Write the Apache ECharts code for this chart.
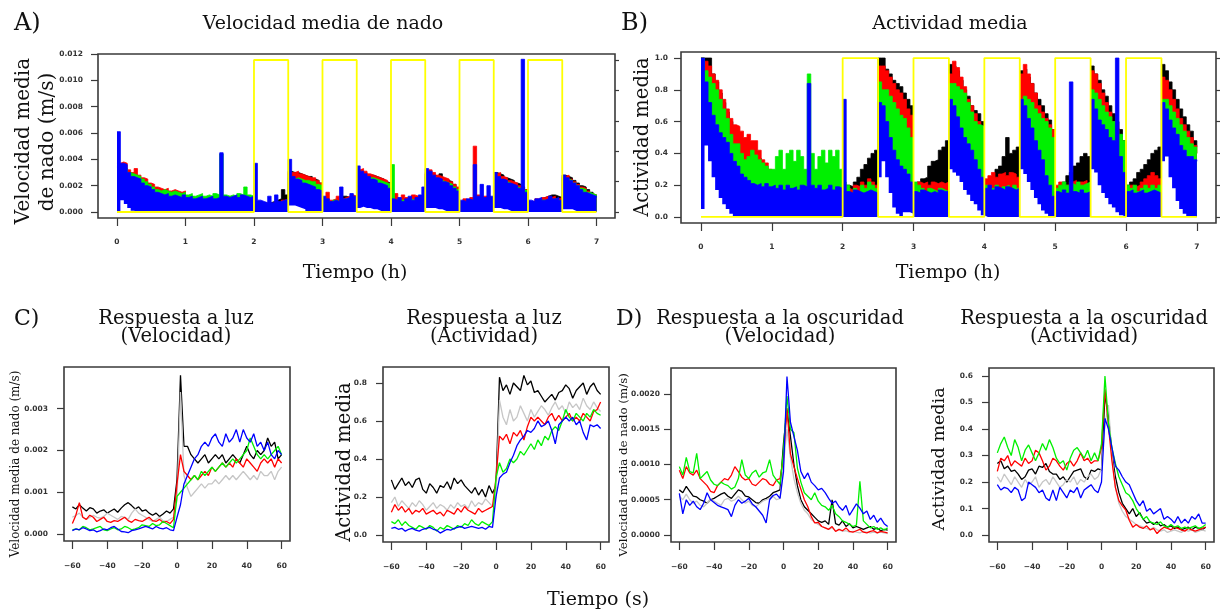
<!DOCTYPE html>
<html>
<head>
<meta charset="utf-8">
<title>Velocidad y actividad media</title>
<script src="https://cdn.jsdelivr.net/npm/echarts@6/dist/echarts.min.js"></script>
<style>
  html, body { margin: 0; padding: 0; background: #ffffff; }
  #chart { width: 1225px; height: 611px; }
</style>
</head>
<body>
<div id="chart"></div>
<script>
// ---------- sampling ----------
const HOUR_STEP = 0.05;          // top panels: one value every 3 min, starting at 0 h
const SEC_START = -60;           // bottom panels: -60 s ... 60 s
const SEC_STEP = 2;

// ---------- ticks ----------
const hourTicks = [0, 1, 2, 3, 4, 5, 6, 7];
const secTicks = [-60, -40, -20, 0, 20, 40, 60];
const swimTicks = [0, 0.002, 0.004, 0.006, 0.008, 0.010, 0.012];
const actTicks = [0, 0.2, 0.4, 0.6, 0.8, 1.0];
const lightTicks = [0, 0.2, 0.4, 0.6, 0.8, 1.0];
const lightSwimTicks = [0, 0.001, 0.002, 0.003];
const lightActTicks = [0, 0.2, 0.4, 0.6, 0.8];
const darkSwimTicks = [0, 0.0005, 0.0010, 0.0015, 0.0020];
const darkActTicks = [0, 0.1, 0.2, 0.3, 0.4, 0.5, 0.6];

// light-on periods (h)
const lightOn = [[2, 2.5], [3, 3.5], [4, 4.5], [5, 5.5], [6, 6.5]];

// ---------- A) mean swimming speed (m/s), 0 - 7 h ----------
const swimBlack = [
  0.0034, 0.0035, 0.0033, 0.0030, 0.0028, 0.0027, 0.0026, 0.0024, 0.0022, 0.0020,
  0.0018, 0.0016, 0.0015, 0.0014, 0.0014, 0.0013, 0.0013, 0.0012, 0.0012, 0.0012,
  0.0011, 0.0011, 0.0010, 0.0011, 0.0010, 0.0010, 0.0011, 0.0010, 0.0010, 0.0011,
  0.0010, 0.0010, 0.0011, 0.0010, 0.0011, 0.0010, 0.0012, 0.0011, 0.0010, 0.0011,
  0.0006, 0.0006, 0.0007, 0.0006, 0.0007, 0.0008, 0.0009, 0.0010, 0.0017, 0.0013,
  0.0031, 0.0030, 0.0030, 0.0029, 0.0028, 0.0027, 0.0027, 0.0025, 0.0024, 0.0022,
  0.0006, 0.0007, 0.0007, 0.0008, 0.0008, 0.0009, 0.0012, 0.0011, 0.0012, 0.0011,
  0.0031, 0.0030, 0.0030, 0.0028, 0.0028, 0.0027, 0.0026, 0.0025, 0.0023, 0.0022,
  0.0006, 0.0007, 0.0008, 0.0007, 0.0009, 0.0008, 0.0010, 0.0009, 0.0011, 0.0010,
  0.0029, 0.0029, 0.0028, 0.0027, 0.0029, 0.0025, 0.0024, 0.0023, 0.0021, 0.0018,
  0.0006, 0.0007, 0.0007, 0.0009, 0.0008, 0.0010, 0.0011, 0.0009, 0.0012, 0.0010,
  0.0030, 0.0029, 0.0028, 0.0026, 0.0025, 0.0024, 0.0022, 0.0021, 0.0019, 0.0017,
  0.0006, 0.0008, 0.0009, 0.0010, 0.0011, 0.0012, 0.0013, 0.0013, 0.0012, 0.0011,
  0.0028, 0.0027, 0.0026, 0.0024, 0.0022, 0.0020, 0.0019, 0.0017, 0.0015, 0.0013, 0.0012
];
const swimRed = [
  0.0037, 0.0038, 0.0037, 0.0032, 0.0030, 0.0033, 0.0028, 0.0026, 0.0025, 0.0022,
  0.0021, 0.0019, 0.0018, 0.0017, 0.0018, 0.0016, 0.0017, 0.0016, 0.0015, 0.0016,
  0.0012, 0.0012, 0.0011, 0.0012, 0.0011, 0.0011, 0.0012, 0.0011, 0.0011, 0.0012,
  0.0011, 0.0011, 0.0012, 0.0011, 0.0011, 0.0012, 0.0011, 0.0012, 0.0011, 0.0011,
  0.0005, 0.0006, 0.0005, 0.0007, 0.0006, 0.0007, 0.0008, 0.0006, 0.0009, 0.0010,
  0.0030, 0.0030, 0.0031, 0.0029, 0.0028, 0.0027, 0.0026, 0.0026, 0.0024, 0.0022,
  0.0008, 0.0015, 0.0009, 0.0010, 0.0012, 0.0010, 0.0011, 0.0012, 0.0013, 0.0012,
  0.0032, 0.0033, 0.0031, 0.0029, 0.0028, 0.0027, 0.0026, 0.0025, 0.0024, 0.0022,
  0.0008, 0.0014, 0.0009, 0.0013, 0.0011, 0.0010, 0.0013, 0.0012, 0.0011, 0.0012,
  0.0030, 0.0032, 0.0030, 0.0028, 0.0027, 0.0026, 0.0025, 0.0023, 0.0021, 0.0019,
  0.0008, 0.0010, 0.0009, 0.0011, 0.0050, 0.0013, 0.0010, 0.0012, 0.0011, 0.0010,
  0.0029, 0.0030, 0.0027, 0.0026, 0.0024, 0.0023, 0.0022, 0.0020, 0.0019, 0.0017,
  0.0007, 0.0008, 0.0010, 0.0009, 0.0011, 0.0012, 0.0011, 0.0012, 0.0010, 0.0011,
  0.0027, 0.0028, 0.0025, 0.0023, 0.0021, 0.0019, 0.0018, 0.0016, 0.0014, 0.0013, 0.0012
];
const swimGreen = [
  0.0035, 0.0034, 0.0033, 0.0030, 0.0029, 0.0028, 0.0027, 0.0025, 0.0023, 0.0021,
  0.0019, 0.0017, 0.0016, 0.0017, 0.0016, 0.0015, 0.0016, 0.0015, 0.0014, 0.0015,
  0.0013, 0.0014, 0.0012, 0.0013, 0.0014, 0.0012, 0.0013, 0.0012, 0.0014, 0.0013,
  0.0044, 0.0013, 0.0012, 0.0013, 0.0012, 0.0014, 0.0013, 0.0019, 0.0013, 0.0012,
  0.0004, 0.0005, 0.0004, 0.0006, 0.0005, 0.0005, 0.0006, 0.0007, 0.0007, 0.0008,
  0.0026, 0.0025, 0.0026, 0.0025, 0.0024, 0.0024, 0.0023, 0.0023, 0.0021, 0.0020,
  0.0007, 0.0008, 0.0007, 0.0009, 0.0008, 0.0009, 0.0010, 0.0009, 0.0011, 0.0010,
  0.0030, 0.0029, 0.0027, 0.0026, 0.0026, 0.0025, 0.0024, 0.0023, 0.0022, 0.0021,
  0.0036, 0.0008, 0.0007, 0.0009, 0.0008, 0.0010, 0.0009, 0.0008, 0.0009, 0.0010,
  0.0027, 0.0027, 0.0026, 0.0025, 0.0024, 0.0023, 0.0022, 0.0021, 0.0019, 0.0017,
  0.0006, 0.0007, 0.0008, 0.0007, 0.0009, 0.0008, 0.0009, 0.0010, 0.0009, 0.0008,
  0.0026, 0.0025, 0.0024, 0.0023, 0.0022, 0.0020, 0.0019, 0.0018, 0.0017, 0.0016,
  0.0006, 0.0007, 0.0008, 0.0007, 0.0009, 0.0008, 0.0009, 0.0010, 0.0009, 0.0008,
  0.0026, 0.0025, 0.0024, 0.0022, 0.0020, 0.0018, 0.0017, 0.0015, 0.0014, 0.0013, 0.0012
];
const swimBlue = [
  0.0061, 0.0037, 0.0036, 0.0030, 0.0027, 0.0026, 0.0025, 0.0022, 0.0020, 0.0019,
  0.0017, 0.0015, 0.0014, 0.0013, 0.0014, 0.0012, 0.0013, 0.0012, 0.0011, 0.0013,
  0.0011, 0.0012, 0.0010, 0.0011, 0.0012, 0.0010, 0.0011, 0.0012, 0.0010, 0.0011,
  0.0045, 0.0012, 0.0011, 0.0012, 0.0013, 0.0011, 0.0013, 0.0012, 0.0011, 0.0012,
  0.0037, 0.0009, 0.0008, 0.0007, 0.0012, 0.0007, 0.0013, 0.0008, 0.0009, 0.0010,
  0.0040, 0.0027, 0.0025, 0.0024, 0.0022, 0.0021, 0.0020, 0.0019, 0.0017, 0.0016,
  0.0012, 0.0010, 0.0008, 0.0009, 0.0008, 0.0019, 0.0010, 0.0011, 0.0014, 0.0012,
  0.0035, 0.0031, 0.0029, 0.0027, 0.0025, 0.0024, 0.0022, 0.0021, 0.0020, 0.0018,
  0.0010, 0.0009, 0.0011, 0.0008, 0.0010, 0.0012, 0.0009, 0.0011, 0.0013, 0.0019,
  0.0033, 0.0031, 0.0028, 0.0026, 0.0025, 0.0023, 0.0022, 0.0020, 0.0018, 0.0016,
  0.0009, 0.0008, 0.0010, 0.0009, 0.0036, 0.0012, 0.0021, 0.0011, 0.0020, 0.0012,
  0.0030, 0.0027, 0.0025, 0.0024, 0.0022, 0.0021, 0.0020, 0.0018, 0.0116, 0.0015,
  0.0009, 0.0008, 0.0010, 0.0011, 0.0009, 0.0010, 0.0012, 0.0010, 0.0011, 0.0009,
  0.0028, 0.0026, 0.0024, 0.0022, 0.0020, 0.0017, 0.0015, 0.0014, 0.0013, 0.0012, 0.0011
];
// lowest value reached by any group in each interval (empty band under the traces)
const swimFloor = [
  0, 0.0009, 0.0006, 0.0003, 0.0001, 0, 0, 0, 0, 0,
  0, 0, 0, 0, 0, 0, 0, 0, 0, 0,
  0, 0, 0, 0, 0, 0, 0, 0, 0, 0,
  0, 0, 0, 0, 0, 0, 0, 0, 0, 0,
  0, 0, 0, 0, 0, 0, 0, 0, 0, 0,
  0.0005, 0.0005, 0.0004, 0.0003, 0.0002, 0, 0, 0, 0, 0,
  0, 0, 0, 0, 0, 0, 0, 0, 0, 0,
  0.0003, 0.0004, 0.0003, 0.0003, 0.0002, 0.0002, 0.0001, 0, 0, 0,
  0, 0, 0, 0, 0, 0, 0, 0, 0, 0,
  0.0003, 0.0003, 0.0003, 0.0002, 0.0002, 0.0001, 0, 0, 0, 0,
  0, 0, 0, 0, 0, 0, 0, 0, 0, 0,
  0.0003, 0.0003, 0.0002, 0.0002, 0.0001, 0, 0, 0, 0, 0,
  0, 0, 0, 0, 0, 0, 0, 0, 0, 0,
  0.0002, 0.0002, 0.0002, 0.0001, 0, 0, 0, 0, 0, 0, 0
];

// ---------- B) mean activity (0-1), 0 - 7 h ----------
const actBlack = [
  1.0, 1.0, 1.0, 0.9, 0.85, 0.78, 0.72, 0.66, 0.6, 0.55,
  0.5, 0.48, 0.45, 0.44, 0.42, 0.4, 0.37, 0.33, 0.3, 0.28,
  0.22, 0.22, 0.2, 0.22, 0.2, 0.22, 0.2, 0.2, 0.22, 0.2,
  0.2, 0.2, 0.22, 0.2, 0.21, 0.2, 0.22, 0.2, 0.21, 0.2,
  0.18, 0.2, 0.19, 0.22, 0.25, 0.3, 0.33, 0.37, 0.4, 0.42,
  1.0, 1.0, 0.93, 0.9, 0.86, 0.84, 0.82, 0.78, 0.74, 0.7,
  0.2, 0.22, 0.24, 0.25, 0.32, 0.35, 0.36, 0.42, 0.44, 0.48,
  0.96, 0.95, 0.92, 0.86, 0.8, 0.76, 0.7, 0.67, 0.65, 0.6,
  0.2, 0.22, 0.25, 0.3, 0.32, 0.38, 0.5, 0.4, 0.42, 0.44,
  0.92, 0.93, 0.88, 0.84, 0.78, 0.74, 0.7, 0.65, 0.61, 0.55,
  0.18, 0.19, 0.22, 0.26, 0.28, 0.32, 0.34, 0.38, 0.4, 0.38,
  0.95, 0.9, 0.86, 0.8, 0.76, 0.7, 0.65, 0.6, 0.55, 0.48,
  0.2, 0.22, 0.24, 0.28, 0.3, 0.33, 0.36, 0.4, 0.42, 0.44,
  0.96, 0.92, 0.85, 0.8, 0.74, 0.68, 0.63, 0.58, 0.54, 0.48, 0.44
];
const actRed = [
  1.0, 0.98, 0.95, 0.9, 0.86, 0.8, 0.74, 0.68, 0.62, 0.58,
  0.57, 0.54, 0.5, 0.52, 0.48, 0.48, 0.42, 0.36, 0.34, 0.3,
  0.24, 0.25, 0.26, 0.24, 0.25, 0.26, 0.24, 0.25, 0.24, 0.25,
  0.26, 0.24, 0.25, 0.26, 0.24, 0.25, 0.26, 0.24, 0.25, 0.24,
  0.16, 0.18, 0.17, 0.2, 0.19, 0.22, 0.2, 0.24, 0.22, 0.2,
  0.95, 0.95, 0.92, 0.88, 0.84, 0.8, 0.78, 0.74, 0.68, 0.64,
  0.2, 0.22, 0.21, 0.22, 0.2, 0.22, 0.21, 0.22, 0.21, 0.22,
  0.9, 0.98, 0.94, 0.88, 0.82, 0.74, 0.7, 0.65, 0.6, 0.56,
  0.24, 0.26, 0.28, 0.25, 0.27, 0.28, 0.26, 0.28, 0.27, 0.25,
  0.9, 0.96, 0.9, 0.84, 0.78, 0.7, 0.66, 0.62, 0.58, 0.55,
  0.2, 0.22, 0.18, 0.2, 0.22, 0.23, 0.2, 0.22, 0.23, 0.21,
  0.92, 0.9, 0.84, 0.78, 0.72, 0.66, 0.6, 0.56, 0.5, 0.45,
  0.18, 0.2, 0.19, 0.2, 0.22, 0.24, 0.26, 0.28, 0.26, 0.24,
  0.88, 0.86, 0.8, 0.74, 0.68, 0.62, 0.58, 0.54, 0.5, 0.45, 0.4
];
const actGreen = [
  1.0, 0.92, 0.88, 0.84, 0.8, 0.74, 0.68, 0.62, 0.52, 0.46,
  0.46, 0.4, 0.36, 0.38, 0.42, 0.39, 0.36, 0.34, 0.32, 0.3,
  0.3, 0.38, 0.42, 0.3, 0.4, 0.42, 0.35, 0.42, 0.38, 0.3,
  0.9, 0.4, 0.3, 0.38, 0.42, 0.34, 0.42, 0.38, 0.42, 0.3,
  0.22, 0.2, 0.14, 0.18, 0.13, 0.2, 0.18, 0.22, 0.2, 0.18,
  0.85, 0.8, 0.8, 0.76, 0.72, 0.68, 0.64, 0.62, 0.56, 0.5,
  0.22, 0.2, 0.18, 0.16, 0.18, 0.17, 0.16, 0.18, 0.17, 0.16,
  0.84, 0.84, 0.82, 0.8, 0.78, 0.72, 0.66, 0.6, 0.58, 0.57,
  0.2, 0.16, 0.18, 0.2, 0.17, 0.19, 0.2, 0.18, 0.2, 0.18,
  0.74, 0.76, 0.74, 0.72, 0.68, 0.65, 0.62, 0.6, 0.56, 0.5,
  0.18, 0.2, 0.22, 0.2, 0.21, 0.2, 0.22, 0.2, 0.21, 0.22,
  0.8, 0.78, 0.74, 0.7, 0.66, 0.63, 0.6, 0.55, 0.52, 0.48,
  0.2, 0.18, 0.2, 0.16, 0.18, 0.2, 0.18, 0.2, 0.18, 0.2,
  0.74, 0.74, 0.7, 0.66, 0.62, 0.58, 0.54, 0.5, 0.46, 0.44, 0.4
];
const actBlue = [
  1.0, 0.85, 0.72, 0.64, 0.58, 0.53, 0.5, 0.47, 0.4, 0.35,
  0.32, 0.27, 0.25, 0.23, 0.21, 0.2, 0.21, 0.19, 0.21, 0.19,
  0.2, 0.18, 0.2, 0.17, 0.2, 0.18, 0.19, 0.17, 0.2, 0.19,
  0.84, 0.2, 0.18, 0.2, 0.17, 0.18, 0.2, 0.17, 0.19, 0.18,
  0.74, 0.16, 0.15, 0.17, 0.16, 0.15, 0.16, 0.17, 0.16, 0.15,
  0.72, 0.7, 0.6, 0.5, 0.42, 0.36, 0.32, 0.3, 0.27, 0.22,
  0.16, 0.15, 0.17, 0.16, 0.15, 0.16, 0.15, 0.17, 0.16, 0.16,
  0.74, 0.7, 0.63, 0.56, 0.5, 0.46, 0.42, 0.36, 0.3, 0.25,
  0.18, 0.2, 0.17, 0.19, 0.18, 0.17, 0.19, 0.18, 0.17, 0.18,
  0.74, 0.7, 0.62, 0.56, 0.48, 0.42, 0.36, 0.26, 0.2, 0.13,
  0.16, 0.15, 0.17, 0.15, 0.85, 0.16, 0.15, 0.17, 0.15, 0.16,
  0.74, 0.68, 0.61, 0.58, 0.55, 0.5, 0.48, 1.0, 0.38, 0.28,
  0.16, 0.17, 0.15, 0.16, 0.17, 0.15, 0.16, 0.17, 0.16, 0.15,
  0.72, 0.68, 0.61, 0.56, 0.52, 0.45, 0.42, 0.38, 0.38, 0.36, 0.35
];
const actFloor = [
  0.05, 0.45, 0.35, 0.25, 0.17, 0.12, 0.08, 0.05, 0.02, 0,
  0, 0, 0, 0, 0, 0, 0, 0, 0, 0,
  0, 0, 0, 0, 0, 0, 0, 0, 0, 0,
  0, 0, 0, 0, 0, 0, 0, 0, 0, 0,
  0, 0, 0, 0, 0, 0, 0, 0, 0, 0,
  0.25, 0.35, 0.25, 0.15, 0.06, 0.02, 0, 0.03, 0.03, 0.02,
  0, 0, 0, 0, 0, 0, 0, 0, 0, 0,
  0.3, 0.28, 0.26, 0.22, 0.17, 0.14, 0.1, 0.08, 0.04, 0.01,
  0, 0, 0, 0, 0, 0, 0, 0, 0, 0,
  0.3, 0.27, 0.22, 0.17, 0.12, 0.08, 0.04, 0.02, 0, 0,
  0, 0, 0, 0, 0, 0, 0, 0, 0, 0,
  0.3, 0.28, 0.2, 0.15, 0.12, 0.08, 0.06, 0.03, 0.01, 0,
  0, 0, 0, 0, 0, 0, 0, 0, 0, 0,
  0.35, 0.38, 0.25, 0.18, 0.1, 0.05, 0.02, 0, 0, 0, 0
];

// ---------- C) response to light, -60 s ... 60 s ----------
const lightSwimBlack = [
  0.00065, 0.0006, 0.0007, 0.00062, 0.00055, 0.00063, 0.0006, 0.0005, 0.00055, 0.00058,
  0.0005, 0.00055, 0.0006, 0.00052, 0.00062, 0.0007, 0.00075, 0.00068, 0.0006, 0.00065,
  0.00055, 0.00058, 0.0005, 0.00045, 0.0005, 0.00042, 0.00048, 0.00055, 0.0005, 0.0006,
  0.0013, 0.0038, 0.0021, 0.0021, 0.0019, 0.0018, 0.0017, 0.0018, 0.0019, 0.0017,
  0.0018, 0.0019, 0.0018, 0.0019, 0.0017, 0.0018, 0.0019, 0.0018, 0.0017, 0.0019,
  0.0021, 0.0019, 0.0018, 0.0020, 0.0019, 0.0020, 0.0023, 0.0021, 0.0022, 0.0018, 0.0019
];
const lightSwimGray = [
  0.0004, 0.00045, 0.0005, 0.0004, 0.00035, 0.0004, 0.00045, 0.0004, 0.00038, 0.00042,
  0.0005, 0.00045, 0.0004, 0.00035, 0.00042, 0.0004, 0.00035, 0.0005, 0.0006, 0.0005,
  0.00045, 0.0004, 0.00035, 0.0003, 0.00035, 0.0004, 0.00032, 0.0003, 0.00035, 0.0004,
  0.0008, 0.0034, 0.0014, 0.0011, 0.0009, 0.0010, 0.0011, 0.0012, 0.0011, 0.0012,
  0.0012, 0.0013, 0.0012, 0.0013, 0.0014, 0.0013, 0.0014, 0.0013, 0.0014, 0.0015,
  0.0014, 0.0013, 0.0014, 0.0013, 0.0015, 0.0014, 0.0014, 0.0015, 0.0013, 0.0015, 0.0016
];
const lightSwimRed = [
  0.00025, 0.00045, 0.00075, 0.0004, 0.00035, 0.00045, 0.0004, 0.0003, 0.00035, 0.0004,
  0.0003, 0.00028, 0.00032, 0.0003, 0.00035, 0.0004, 0.00032, 0.00028, 0.00035, 0.00032,
  0.0003, 0.00035, 0.0004, 0.00032, 0.0003, 0.00035, 0.00028, 0.0003, 0.00025, 0.00035,
  0.0012, 0.0019, 0.0015, 0.0014, 0.0013, 0.0014, 0.0013, 0.0014, 0.0015, 0.0014,
  0.0016, 0.0015, 0.0016, 0.0017, 0.0016, 0.0017, 0.0016, 0.0018, 0.0017, 0.0016,
  0.0018, 0.0017, 0.0016, 0.0015, 0.0017, 0.0018, 0.0017, 0.0018, 0.0016, 0.0018, 0.0017
];
const lightSwimGreen = [
  0.0001, 0.00012, 0.0001, 0.00018, 0.00015, 0.0001, 0.00012, 0.00015, 0.00018, 0.0001,
  0.00008, 0.00012, 0.00015, 0.0001, 0.00012, 0.00018, 0.00015, 0.0001, 0.00012, 0.00015,
  0.00022, 0.0002, 0.00018, 0.00025, 0.0002, 0.00022, 0.0003, 0.00025, 0.0002, 0.00015,
  0.0009, 0.0010, 0.0011, 0.0012, 0.0013, 0.0014, 0.0013, 0.0015, 0.0014, 0.0015,
  0.0016, 0.0015, 0.0016, 0.0017, 0.0016, 0.0017, 0.0018, 0.0017, 0.0018, 0.0019,
  0.0020, 0.0023, 0.0021, 0.0019, 0.0018, 0.0019, 0.0018, 0.0019, 0.0020, 0.0021, 0.0019
];
const lightSwimBlue = [
  0.00008, 0.00012, 0.0001, 0.00015, 0.00012, 0.00008, 0.0001, 0.00005, 0.00008, 0.00012,
  0.0001, 0.00015, 0.00018, 0.00012, 0.00006, 0.00005, 0.00003, 0.00008, 0.0001, 0.00012,
  0.00015, 0.00018, 0.00015, 0.00012, 0.00018, 0.00014, 0.00012, 0.00015, 0.0001, 0.00008,
  0.0004, 0.0007, 0.0012, 0.0014, 0.0016, 0.0018, 0.0019, 0.0021, 0.0022, 0.0021,
  0.0023, 0.0024, 0.0022, 0.0021, 0.0024, 0.0022, 0.0023, 0.0025, 0.0022, 0.0025,
  0.0023, 0.0022, 0.0024, 0.0021, 0.0022, 0.0020, 0.0022, 0.0019, 0.0018, 0.0020, 0.0019
];

const lightActBlack = [
  0.29, 0.24, 0.27, 0.3, 0.26, 0.28, 0.25, 0.29, 0.3, 0.24,
  0.22, 0.27, 0.25, 0.22, 0.26, 0.25, 0.28, 0.24, 0.3, 0.27,
  0.29, 0.26, 0.24, 0.22, 0.25, 0.21, 0.24, 0.2, 0.26, 0.22,
  0.26, 0.83, 0.76, 0.79, 0.74, 0.8, 0.78, 0.76, 0.84, 0.79,
  0.81, 0.75, 0.76, 0.73, 0.7, 0.72, 0.74, 0.71, 0.75, 0.76,
  0.79, 0.77, 0.72, 0.76, 0.78, 0.8, 0.74, 0.78, 0.8, 0.76, 0.74
];
const lightActGray = [
  0.17, 0.2, 0.15, 0.18, 0.16, 0.14, 0.17, 0.15, 0.18, 0.16,
  0.13, 0.15, 0.17, 0.14, 0.16, 0.15, 0.13, 0.16, 0.14, 0.17,
  0.15, 0.16, 0.14, 0.18, 0.15, 0.17, 0.16, 0.19, 0.17, 0.15,
  0.2, 0.71, 0.62, 0.58, 0.66, 0.6, 0.62, 0.68, 0.64, 0.6,
  0.66, 0.62, 0.65, 0.68, 0.66, 0.63, 0.67, 0.7, 0.66, 0.68,
  0.64, 0.7, 0.67, 0.69, 0.66, 0.72, 0.68, 0.66, 0.7, 0.67, 0.65
];
const lightActRed = [
  0.12, 0.16, 0.13, 0.15, 0.12, 0.14, 0.11, 0.13, 0.12, 0.14,
  0.11, 0.12, 0.13, 0.11, 0.12, 0.1, 0.13, 0.12, 0.11, 0.14,
  0.12, 0.15, 0.13, 0.12, 0.11, 0.14, 0.12, 0.13, 0.14, 0.15,
  0.3, 0.52, 0.5, 0.53, 0.48, 0.54, 0.52, 0.55, 0.5, 0.57,
  0.62, 0.6, 0.62, 0.6, 0.58, 0.62, 0.64, 0.6, 0.63, 0.6,
  0.62, 0.64, 0.6, 0.62, 0.6, 0.64, 0.62, 0.6, 0.65, 0.66, 0.7
];
const lightActGreen = [
  0.07, 0.06, 0.08, 0.05, 0.07, 0.05, 0.04, 0.03, 0.05, 0.04,
  0.03, 0.05, 0.04, 0.02, 0.04, 0.03, 0.05, 0.04, 0.03, 0.05,
  0.04, 0.06, 0.05, 0.08, 0.06, 0.05, 0.07, 0.06, 0.05, 0.07,
  0.3, 0.38, 0.33, 0.35, 0.4, 0.38, 0.4, 0.44, 0.42, 0.45,
  0.48, 0.45, 0.5, 0.47, 0.52, 0.5, 0.55, 0.57, 0.55, 0.6,
  0.66, 0.62, 0.6, 0.64, 0.62, 0.6, 0.64, 0.62, 0.66, 0.64, 0.63
];
const lightActBlue = [
  0.035, 0.04, 0.03, 0.035, 0.02, 0.03, 0.035, 0.025, 0.02, 0.03,
  0.035, 0.04, 0.03, 0.025, 0.01, 0.02, 0.03, 0.025, 0.035, 0.04,
  0.045, 0.035, 0.04, 0.045, 0.04, 0.035, 0.04, 0.03, 0.045, 0.04,
  0.2, 0.3, 0.32, 0.33, 0.38, 0.42, 0.47, 0.5, 0.52, 0.55,
  0.54, 0.56, 0.6, 0.57, 0.58, 0.6, 0.55, 0.48, 0.58, 0.6,
  0.62, 0.6, 0.62, 0.58, 0.6, 0.54, 0.5, 0.58, 0.57, 0.58, 0.56
];

// ---------- D) response to darkness, -60 s ... 60 s ----------
const darkSwimBlack = [
  0.00064, 0.0006, 0.00069, 0.00062, 0.00055, 0.00054, 0.0005, 0.00048, 0.00045, 0.0005,
  0.00052, 0.00055, 0.00058, 0.0006, 0.00055, 0.00052, 0.00058, 0.00064, 0.00062, 0.00055,
  0.00054, 0.0005, 0.00046, 0.00045, 0.0005, 0.00052, 0.00055, 0.0006, 0.00062, 0.00064,
  0.0013, 0.00178, 0.0014, 0.001, 0.0007, 0.0005, 0.0004, 0.00035, 0.0003, 0.00025,
  0.0002, 0.00018, 0.0002, 0.00015, 0.0005, 0.00016, 0.00014, 0.0002, 0.00012, 0.00016,
  0.0001, 0.00012, 0.0001, 0.00008, 0.0001, 0.00012, 0.00008, 0.0001, 0.00006, 0.00008, 0.00007
];
const darkSwimGray = [
  0.00055, 0.0005, 0.00058, 0.0005, 0.00045, 0.00048, 0.00042, 0.0004, 0.00045, 0.0005,
  0.00048, 0.00045, 0.00042, 0.0005, 0.00052, 0.00048, 0.0005, 0.00055, 0.0005, 0.00045,
  0.00048, 0.00042, 0.0004, 0.00044, 0.00048, 0.0005, 0.00052, 0.00055, 0.0005, 0.00052,
  0.001, 0.0015, 0.0011, 0.0008, 0.0006, 0.00045, 0.00035, 0.0003, 0.00022, 0.00018,
  0.00015, 0.00012, 0.0001, 0.00008, 0.0001, 0.00006, 0.00008, 0.00005, 0.00006, 0.00004,
  0.00005, 0.00004, 0.00003, 0.00005, 0.00004, 0.00003, 0.00004, 0.00003, 0.00004, 0.00003, 0.00002
];
const darkSwimRed = [
  0.00092, 0.0008, 0.00097, 0.00088, 0.00085, 0.00092, 0.0008, 0.00075, 0.0007, 0.00062,
  0.0006, 0.0007, 0.00075, 0.0008, 0.00078, 0.00085, 0.00097, 0.0009, 0.00082, 0.00078,
  0.0008, 0.00072, 0.0007, 0.00075, 0.0008, 0.00078, 0.00072, 0.0007, 0.00078, 0.0008,
  0.0011, 0.0018, 0.00115, 0.00097, 0.0008, 0.00065, 0.0005, 0.0004, 0.00026, 0.00017,
  0.00018, 0.00012, 0.0001, 0.00008, 0.00012, 0.00005, 0.00008, 0.00006, 0.0001, 0.00005,
  0.00004, 0.00006, 0.00008, 0.00004, 0.00003, 0.00005, 0.00006, 0.00003, 0.00005, 0.00004, 0.00003
];
const darkSwimGreen = [
  0.00097, 0.00085, 0.0011, 0.0009, 0.00088, 0.00116, 0.0008, 0.00085, 0.0009, 0.00078,
  0.00072, 0.0007, 0.00075, 0.00072, 0.0007, 0.00065, 0.00068, 0.0008, 0.00107, 0.00085,
  0.0008, 0.00088, 0.00092, 0.00082, 0.00088, 0.0009, 0.00107, 0.00085, 0.00078, 0.00072,
  0.0012, 0.00197, 0.0015, 0.00145, 0.00095, 0.00075, 0.0006, 0.00055, 0.0005, 0.0006,
  0.00048, 0.00042, 0.0004, 0.00035, 0.00042, 0.0003, 0.00026, 0.0002, 0.00018, 0.00015,
  0.00012, 0.00014, 0.00076, 0.0002, 0.00015, 0.0001, 0.00012, 0.00008, 0.0001, 0.00007, 0.0001
];
const darkSwimBlue = [
  0.00059, 0.0003, 0.0005, 0.00042, 0.00048, 0.0004, 0.00036, 0.00045, 0.0006, 0.0005,
  0.00046, 0.00042, 0.0004, 0.00038, 0.00036, 0.00026, 0.00042, 0.0005, 0.00045, 0.00048,
  0.00052, 0.00044, 0.0004, 0.00034, 0.00028, 0.00017, 0.0005, 0.00056, 0.00058, 0.00052,
  0.0009, 0.00225, 0.0016, 0.0014, 0.0012, 0.0009, 0.0008, 0.00088, 0.00075, 0.0007,
  0.00064, 0.00066, 0.0006, 0.00052, 0.00045, 0.00048, 0.0004, 0.00035, 0.00042, 0.00028,
  0.00036, 0.00044, 0.00038, 0.0003, 0.00034, 0.00022, 0.00028, 0.00018, 0.00024, 0.00016, 0.00012
];

const darkActBlack = [
  0.27, 0.28, 0.25, 0.26, 0.24, 0.245, 0.23, 0.21, 0.22, 0.245,
  0.25, 0.23, 0.26, 0.255, 0.27, 0.24, 0.23, 0.23, 0.21, 0.22,
  0.2, 0.22, 0.24, 0.245, 0.25, 0.22, 0.21, 0.245, 0.24, 0.25,
  0.245, 0.53, 0.45, 0.31, 0.22, 0.16, 0.12, 0.1, 0.08, 0.1,
  0.07, 0.085, 0.06, 0.045, 0.05, 0.04, 0.05, 0.035, 0.04, 0.03,
  0.035, 0.025, 0.03, 0.02, 0.025, 0.03, 0.02, 0.03, 0.025, 0.02, 0.03
];
const darkActGray = [
  0.22, 0.2, 0.23, 0.21, 0.19, 0.22, 0.2, 0.18, 0.21, 0.19,
  0.2, 0.22, 0.18, 0.2, 0.21, 0.19, 0.22, 0.2, 0.18, 0.19,
  0.21, 0.2, 0.22, 0.19, 0.21, 0.2, 0.22, 0.23, 0.21, 0.22,
  0.25, 0.42, 0.49, 0.3, 0.18, 0.12, 0.09, 0.07, 0.06, 0.05,
  0.04, 0.035, 0.03, 0.025, 0.02, 0.03, 0.02, 0.015, 0.02, 0.01,
  0.015, 0.02, 0.015, 0.01, 0.02, 0.015, 0.02, 0.01, 0.015, 0.02, 0.015
];
const darkActRed = [
  0.24, 0.29, 0.28, 0.3, 0.26, 0.28, 0.27, 0.26, 0.29, 0.27,
  0.28, 0.32, 0.31, 0.28, 0.245, 0.26, 0.29, 0.28, 0.26, 0.245,
  0.27, 0.28, 0.26, 0.28, 0.31, 0.28, 0.29, 0.27, 0.28, 0.28,
  0.33, 0.55, 0.41, 0.28, 0.18, 0.13, 0.11, 0.094, 0.056, 0.03,
  0.04, 0.03, 0.025, 0.035, 0.02, 0.025, 0.006, 0.02, 0.03, 0.025,
  0.02, 0.03, 0.025, 0.02, 0.015, 0.025, 0.02, 0.015, 0.02, 0.025, 0.03
];
const darkActGreen = [
  0.31, 0.345, 0.37, 0.33, 0.3, 0.36, 0.33, 0.28, 0.32, 0.34,
  0.31, 0.28, 0.31, 0.345, 0.32, 0.36, 0.33, 0.29, 0.27, 0.28,
  0.245, 0.29, 0.32, 0.33, 0.31, 0.29, 0.32, 0.28, 0.31, 0.28,
  0.345, 0.6, 0.42, 0.33, 0.27, 0.22, 0.19, 0.16, 0.15, 0.13,
  0.1, 0.08, 0.06, 0.07, 0.05, 0.045, 0.04, 0.05, 0.035, 0.03,
  0.04, 0.03, 0.035, 0.025, 0.03, 0.025, 0.03, 0.035, 0.025, 0.03, 0.04
];
const darkActBlue = [
  0.19, 0.17, 0.18, 0.175, 0.16, 0.18, 0.17, 0.13, 0.14, 0.2,
  0.19, 0.18, 0.16, 0.17, 0.14, 0.13, 0.17, 0.13, 0.18, 0.16,
  0.14, 0.17, 0.16, 0.18, 0.14, 0.17, 0.18, 0.19, 0.17, 0.16,
  0.2, 0.44, 0.4, 0.33, 0.26, 0.245, 0.22, 0.2, 0.19, 0.16,
  0.13, 0.11, 0.13, 0.09, 0.1, 0.08, 0.09, 0.1, 0.06, 0.07,
  0.06, 0.045, 0.07, 0.045, 0.06, 0.045, 0.07, 0.06, 0.08, 0.045, 0.045
];

// ---------- styling ----------
const C = {
  black: '#000000', gray: '#c6c6c6', red: '#ff0000',
  green: '#00f000', blue: '#0000ff', light: '#ffff00', frame: '#3a3a3a'
};
const SERIF = '"DejaVu Serif", "Liberation Serif", serif';
const TICK_FONT = { fontSize: 7.5, fontWeight: 'bold', color: '#333333', fontFamily: '"DejaVu Sans", sans-serif' };

// panel frames (plot boxes) and value ranges
const panels = [
  { grid: { left: 98,  top: 54,  width: 517, height: 164 }, x: [-0.277, 7.27], y: [-0.000456, 0.012] },
  { grid: { left: 681, top: 52,  width: 535, height: 171 }, x: [-0.282, 7.27], y: [-0.038, 1.038] },
  { grid: { left: 64,  top: 367, width: 226, height: 174 }, x: [-64.8, 64.8], y: [-0.000168, 0.004] },
  { grid: { left: 383, top: 367, width: 226, height: 175 }, x: [-64.8, 64.8], y: [-0.037, 0.884] },
  { grid: { left: 671, top: 368, width: 225, height: 174 }, x: [-64.8, 64.8], y: [-0.0001, 0.00237] },
  { grid: { left: 989, top: 368, width: 225, height: 174 }, x: [-64.8, 64.8], y: [-0.026, 0.63] }
];

const signed = v => (v < 0 ? '\u2212' + Math.abs(v) : String(v));

function xAxisFor(i, ticks, margin) {
  const p = panels[i];
  return {
    type: 'value', gridIndex: i, position: 'bottom', min: p.x[0], max: p.x[1],
    axisLine: { show: false, onZero: false }, splitLine: { show: false },
    axisTick: { show: true, customValues: ticks, length: 8, lineStyle: { color: C.frame, width: 1.2 } },
    axisLabel: Object.assign({ customValues: ticks, margin, formatter: signed }, TICK_FONT)
  };
}
function yAxisFor(i, ticks, digits, margin) {
  const p = panels[i];
  return {
    type: 'value', gridIndex: i, position: 'left', min: p.y[0], max: p.y[1],
    axisLine: { show: false, onZero: false }, splitLine: { show: false },
    axisTick: { show: true, customValues: ticks, length: 7, lineStyle: { color: C.frame, width: 1.2 } },
    axisLabel: Object.assign({ customValues: ticks, margin, formatter: v => v.toFixed(digits) }, TICK_FONT)
  };
}
function lightAxisFor(i, min, max) {
  return {
    type: 'value', gridIndex: i, position: 'right', min, max,
    axisLine: { show: false, onZero: false }, splitLine: { show: false },
    axisTick: { show: true, customValues: lightTicks, length: 4, lineStyle: { color: C.frame, width: 1.2 } },
    axisLabel: { show: false }
  };
}

const hourPairs = vals => vals.map((v, i) => [i * HOUR_STEP, v]);
const secPairs = vals => vals.map((v, i) => [SEC_START + i * SEC_STEP, v]);

function lightTrace() {
  const pts = [[0, 0]];
  lightOn.forEach(([a, b]) => { pts.push([a, 0], [a, 1], [b, 1], [b, 0]); });
  pts.push([7, 0]);
  return pts;
}

// each series gets its own z so later groups are painted over earlier ones
function areaSeries(vals, color, axis, z) {
  return {
    type: 'line', xAxisIndex: axis, yAxisIndex: axis, data: hourPairs(vals), z,
    step: 'end', symbol: 'none', silent: true,
    lineStyle: { color, width: 0.8 }, areaStyle: { color, opacity: 1 }
  };
}
function floorSeries(vals, axis, z) {
  return {
    type: 'line', xAxisIndex: axis, yAxisIndex: axis, data: hourPairs(vals), z,
    step: 'end', symbol: 'none', silent: true,
    lineStyle: { width: 0 }, areaStyle: { color: '#ffffff', opacity: 1 }
  };
}
function lightSeries(xAxis, yAxis, z) {
  return {
    type: 'line', xAxisIndex: xAxis, yAxisIndex: yAxis, data: lightTrace(), z,
    symbol: 'none', silent: true, lineStyle: { color: C.light, width: 1.8 }
  };
}
function traceSeries(vals, color, axis, z) {
  return {
    type: 'line', xAxisIndex: axis, yAxisIndex: axis, data: secPairs(vals), z,
    symbol: 'none', silent: true, lineStyle: { color, width: 1.3 }
  };
}

function text(str, x, y, size, opts) {
  const o = opts || {};
  return {
    type: 'text', x, y, rotation: o.rotate ? Math.PI / 2 : 0, silent: true,
    style: {
      text: str, font: size + 'px ' + SERIF, fill: '#111111',
      textAlign: o.align || 'center', textVerticalAlign: 'middle',
      align: o.align || 'center', verticalAlign: 'middle',
      lineHeight: o.lineHeight || size
    }
  };
}

const series = [
  // A
  areaSeries(swimBlack, C.black, 0, 2), areaSeries(swimRed, C.red, 0, 3),
  areaSeries(swimGreen, C.green, 0, 4), areaSeries(swimBlue, C.blue, 0, 5),
  floorSeries(swimFloor, 0, 6), lightSeries(0, 6, 7),
  // B
  areaSeries(actBlack, C.black, 1, 2), areaSeries(actRed, C.red, 1, 3),
  areaSeries(actGreen, C.green, 1, 4), areaSeries(actBlue, C.blue, 1, 5),
  floorSeries(actFloor, 1, 6), lightSeries(1, 7, 7),
  // C
  traceSeries(lightSwimBlack, C.black, 2, 2), traceSeries(lightSwimGray, C.gray, 2, 3),
  traceSeries(lightSwimRed, C.red, 2, 4), traceSeries(lightSwimGreen, C.green, 2, 5),
  traceSeries(lightSwimBlue, C.blue, 2, 6),
  traceSeries(lightActBlack, C.black, 3, 2), traceSeries(lightActGray, C.gray, 3, 3),
  traceSeries(lightActRed, C.red, 3, 4), traceSeries(lightActGreen, C.green, 3, 5),
  traceSeries(lightActBlue, C.blue, 3, 6),
  // D
  traceSeries(darkSwimBlack, C.black, 4, 2), traceSeries(darkSwimGray, C.gray, 4, 3),
  traceSeries(darkSwimRed, C.red, 4, 4), traceSeries(darkSwimGreen, C.green, 4, 5),
  traceSeries(darkSwimBlue, C.blue, 4, 6),
  traceSeries(darkActBlack, C.black, 5, 2), traceSeries(darkActGray, C.gray, 5, 3),
  traceSeries(darkActRed, C.red, 5, 4), traceSeries(darkActGreen, C.green, 5, 5),
  traceSeries(darkActBlue, C.blue, 5, 6)
];

const option = {
  animation: false,
  backgroundColor: '#ffffff',
  grid: panels.map(p => Object.assign({
    show: true, borderColor: C.frame, borderWidth: 1.6, backgroundColor: 'transparent', z: 10
  }, p.grid)),
  xAxis: [
    xAxisFor(0, hourTicks, 20), xAxisFor(1, hourTicks, 20),
    xAxisFor(2, secTicks, 21), xAxisFor(3, secTicks, 21),
    xAxisFor(4, secTicks, 21), xAxisFor(5, secTicks, 21)
  ],
  yAxis: [
    yAxisFor(0, swimTicks, 3, 15), yAxisFor(1, actTicks, 1, 13),
    yAxisFor(2, lightSwimTicks, 3, 16), yAxisFor(3, lightActTicks, 1, 16),
    yAxisFor(4, darkSwimTicks, 4, 11), yAxisFor(5, darkActTicks, 1, 16),
    lightAxisFor(0, -0.0395, 1.0395), lightAxisFor(1, -0.038, 1.038)
  ],
  series,
  graphic: { elements: [
    text('A)', 14, 24, 24, { align: 'left' }),
    text('Velocidad media de nado', 323, 24, 19),
    text('B)', 621, 24, 24, { align: 'left' }),
    text('Actividad media', 950, 24, 19),
    text('Velocidad media', 24, 141, 20, { rotate: true }),
    text('de nado (m/s)', 48, 142, 20, { rotate: true }),
    text('Actividad media', 643, 137, 19.5, { rotate: true }),
    text('Tiempo (h)', 355, 273, 19),
    text('Tiempo (h)', 948, 273, 19),
    text('C)', 14, 319, 22, { align: 'left' }),
    text('Respuesta a luz\n(Velocidad)', 176, 328, 19.5, { lineHeight: 18 }),
    text('Respuesta a luz\n(Actividad)', 484, 328, 19.5, { lineHeight: 18 }),
    text('D)', 616, 319, 22, { align: 'left' }),
    text('Respuesta a la oscuridad\n(Velocidad)', 780, 328, 19.5, { lineHeight: 18 }),
    text('Respuesta a la oscuridad\n(Actividad)', 1084, 328, 19.5, { lineHeight: 18 }),
    text('Velocidad media de nado (m/s)', 16, 464, 12, { rotate: true }),
    text('Actividad media', 345, 462, 19.5, { rotate: true }),
    text('Velocidad media de nado (m/s)', 624, 465, 11.8, { rotate: true }),
    text('Actividad media', 939, 459, 17.5, { rotate: true }),
    text('Tiempo (s)', 598, 600, 19)
  ] }
};

const chart = echarts.init(document.getElementById('chart'), null, { renderer: 'canvas' });
chart.setOption(option);
</script>
</body>
</html>
